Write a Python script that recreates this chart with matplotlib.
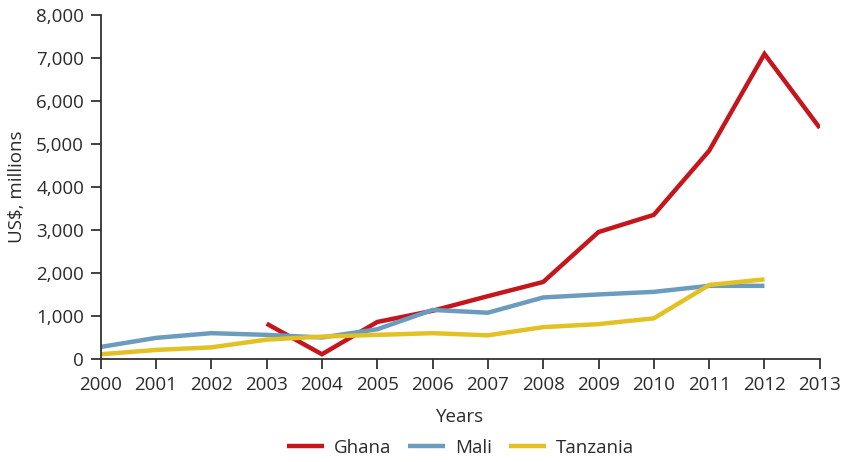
import matplotlib.pyplot as plt
from matplotlib.ticker import FuncFormatter

plt.rcParams['font.family'] = ['Open Sans', 'DejaVu Sans']

years = list(range(2000, 2014))

ghana_years = list(range(2003, 2014))
ghana = [820, 110, 860, 1120, 1460, 1790, 2950, 3350, 4840, 7090, 5370]

mali_years = list(range(2000, 2013))
mali = [280, 490, 600, 560, 500, 690, 1140, 1075, 1430, 1500, 1560, 1700, 1700]

tanzania_years = list(range(2000, 2013))
tanzania = [110, 210, 270, 450, 520, 560, 600, 550, 740, 810, 945, 1720, 1850]

TEXT = "#2b2b2b"
LINE = dict(lw=3.2, solid_joinstyle="miter", solid_capstyle="butt")

fig = plt.figure(figsize=(8.46, 4.62), dpi=100, facecolor="white")
ax = fig.add_axes([0.119, 0.223, 0.850, 0.745])

ax.plot(ghana_years, ghana, color="#c4161c", label="Ghana", **LINE)
ax.plot(mali_years, mali, color="#6b9bbd", label="Mali", **LINE)
ax.plot(tanzania_years, tanzania, color="#e2c124", label="Tanzania", **LINE)

ax.set_xlim(2000, 2013)
ax.set_ylim(0, 8000)
ax.set_xticks(years)
ax.set_yticks(range(0, 8001, 1000))
ax.yaxis.set_major_formatter(FuncFormatter(lambda v, p: f"{int(v):,}"))

for s in ["top", "right"]:
    ax.spines[s].set_visible(False)
for s in ["left", "bottom"]:
    ax.spines[s].set_color("#333333")
    ax.spines[s].set_linewidth(1.3)

ax.tick_params(direction="out", length=7, width=1.3, color="#333333",
               labelsize=13.5, labelcolor=TEXT, pad=5)

ax.set_xlabel("Years", fontsize=13.5, color=TEXT, labelpad=10)
ax.set_ylabel("US$, millions", fontsize=13.5, color=TEXT, labelpad=7)

fig.legend(loc="lower center", bbox_to_anchor=(0.544, -0.025), ncol=3, frameon=False,
           fontsize=13.5, handlelength=2.0, handletextpad=0.5, columnspacing=0.9,
           labelcolor=TEXT)

fig.savefig("out.png", dpi=100, facecolor="white")
